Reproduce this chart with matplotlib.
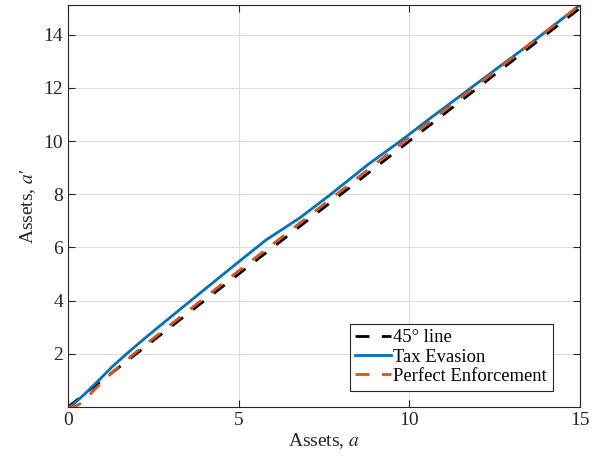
import numpy as np
import matplotlib
matplotlib.use("Agg")
import matplotlib.pyplot as plt

# values
x_45 = [0, 15]
y_45 = [0, 15]

x_evasion = [0, 0.1, 0.5, 0.9, 1.3, 1.7, 2.2, 2.7, 4.0, 5.0, 5.8, 6.8, 7.7, 8.8, 9.8,
             10.6, 11.7, 12.7, 13.5, 14.3, 15.0]
y_evasion = [0, 0.04, 0.5, 1.0, 1.52, 1.98, 2.53, 3.06, 4.42, 5.46, 6.28, 7.12, 8.0, 9.13,
             10.06, 10.85, 11.9, 12.86, 13.62, 14.42, 15.12]

x_enforce = [0, 0.2, 0.4, 0.83, 1.4, 2.0, 3.0, 5.0, 8.0, 10.0, 12.0, 15.0]
y_enforce = [0, 0.02, 0.15, 0.72, 1.42, 2.07, 3.09, 5.12, 8.13, 10.15, 12.12, 15.12]

labels = ["45° line", "Tax Evasion", "Perfect Enforcement"]
x_ticks = [0, 5, 10, 15]
y_ticks = [2, 4, 6, 8, 10, 12, 14]

plt.rcParams["font.family"] = ["Liberation Serif", "DejaVu Serif"]
plt.rcParams["mathtext.fontset"] = "stix"

dark = "#262626"

fig = plt.figure(figsize=(6.14, 4.67), dpi=100)
ax = fig.add_axes([0.1107, 0.1285, 0.8339, 0.8608])

ax.plot(x_45, y_45, color="black", lw=2, dashes=(5, 4.5), label=labels[0])
ax.plot(x_evasion, y_evasion, color="#0072BD", lw=2, label=labels[1])
ax.plot(x_enforce, y_enforce, color="#D95319", lw=2, dashes=(5, 4.5), label=labels[2])

ax.set_xlim(0, 15)
ax.set_ylim(0, 15.12)
ax.set_xticks(x_ticks)
ax.set_yticks(y_ticks)
ax.grid(True, color="#dcdcdc", lw=0.8)
ax.set_axisbelow(True)

ax.tick_params(direction="in", top=True, right=True, length=5, width=0.8,
               colors=dark, labelsize=14, labelcolor=dark)
for s in ax.spines.values():
    s.set_color(dark)
    s.set_linewidth(0.8)

ax.set_xlabel("Assets, $a$", fontsize=14, color=dark, labelpad=2)
ax.set_ylabel("Assets, $a$\u2032", fontsize=14, color=dark, labelpad=4)

leg = ax.legend(loc="lower right", bbox_to_anchor=(0.9467, 0.041), borderaxespad=0,
                fontsize=13.4, fancybox=False, framealpha=1, edgecolor=dark,
                handlelength=1.95, handletextpad=0.1, labelspacing=0.12,
                borderpad=0.3)
leg.get_frame().set_linewidth(0.8)

fig.savefig("out.png", dpi=100)
